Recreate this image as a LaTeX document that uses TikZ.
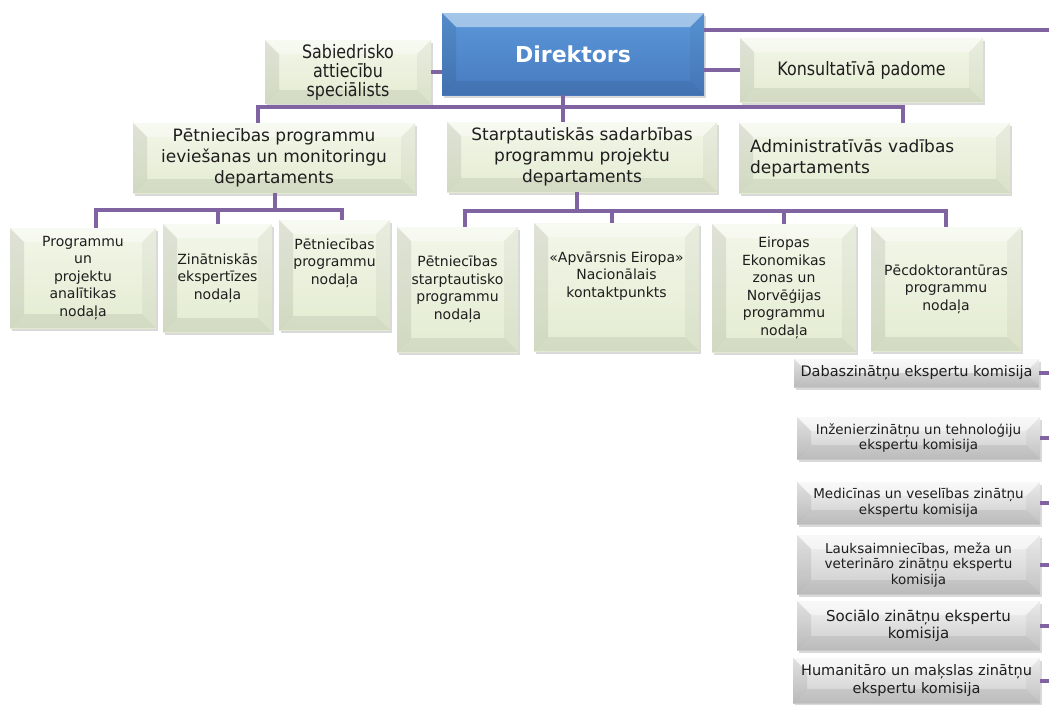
\documentclass[tikz,border=0pt]{standalone}
\usepackage{fontspec}
\setmainfont{DejaVu Sans}
\newfontfamily\narrowfont[FakeStretch=0.86]{DejaVu Sans}
\usetikzlibrary{shadows}

\definecolor{linkpurple}{RGB}{128,100,162}
\definecolor{greentop}{RGB}{242,246,232}
\definecolor{greenbot}{RGB}{228,236,210}
\definecolor{bluetop}{RGB}{90,152,218}
\definecolor{bluebot}{RGB}{72,122,190}
\definecolor{greytop}{RGB}{244,244,244}
\definecolor{greybot}{RGB}{202,202,202}
\definecolor{inktext}{RGB}{30,30,30}

\tikzset{
  bevel/.style={path picture={
    \path (path picture bounding box.north west) coordinate (nw)
          (path picture bounding box.north east) coordinate (ne)
          (path picture bounding box.south east) coordinate (se)
          (path picture bounding box.south west) coordinate (sw);
    \fill[white, opacity=.45] (nw) -- (ne) -- ([shift={(-#1,-#1)}]ne) -- ([shift={(#1,-#1)}]nw) -- cycle;
    \fill[black, opacity=.08] (nw) -- (sw) -- ([shift={(#1,#1)}]sw) -- ([shift={(#1,-#1)}]nw) -- cycle;
    \fill[black, opacity=.04] (ne) -- (se) -- ([shift={(-#1,#1)}]se) -- ([shift={(-#1,-#1)}]ne) -- cycle;
    \fill[black, opacity=.07] (sw) -- (se) -- ([shift={(-#1,#1)}]se) -- ([shift={(#1,#1)}]sw) -- cycle;
  }},
  bevel/.default=14pt,
  box/.style={rectangle, inner sep=4pt, align=center, text=inktext, bevel,
    drop shadow={shadow xshift=1.5pt, shadow yshift=-2.5pt, opacity=.3}},
  greenbox/.style={box, top color=greentop, bottom color=greenbot},
  greybox/.style={box, top color=greytop, bottom color=greybot},
  headbox/.style={box, top color=bluetop, bottom color=bluebot, text=white,
    font=\bfseries\fontsize{22}{26}\selectfont},
  side/.style={greenbox, font=\narrowfont\fontsize{18.5}{19}\selectfont},
  dept/.style={greenbox, font=\fontsize{17}{21}\selectfont},
  unit/.style={greenbox, font=\fontsize{14}{17.5}\selectfont},
  board/.style={greybox, font=\fontsize{13.5}{15.5}\selectfont},
  link/.style={draw=linkpurple, line width=4pt},
}

\begin{document}
\begin{tikzpicture}[x=1pt, y=-1pt]
  \useasboundingbox (0,0) rectangle (1049,704);
  \coordinate (edge) at (1049,0);

  % Top level
  \node[headbox, minimum width=262pt, minimum height=82pt] (dir) at (573,54) {Direktors};
  \node[side, minimum width=166pt, minimum height=54pt] (sab) at (348,72) {Sabiedrisko\\attiecību\\speciālists};
  \node[side, minimum width=243pt, minimum height=64pt] (kons) at (861.5,70) {Konsultatīvā padome};

  % Departments
  \node[dept, minimum width=282pt, minimum height=70pt] (pdept) at (274,158) {Pētniecības programmu\\ieviešanas un monitoringu\\departaments};
  \node[dept, minimum width=270pt, minimum height=70pt] (sdept) at (582,157) {Starptautiskās sadarbības\\programmu projektu\\departaments};
  \node[dept, minimum width=271pt, minimum height=70pt, align=left, inner xsep=11pt,
        text width=249pt] (adept) at (874.5,158) {Administratīvās vadības\\departaments};

  % Units
  \node[unit, minimum width=146pt, minimum height=100pt] (ana) at (83,278) {Programmu\\un\\projektu\\analītikas\\nodaļa};
  \node[unit, minimum width=109pt, minimum height=108pt] (zin) at (217.5,278) {Zinātniskās\\ekspertīzes\\nodaļa};
  \node[unit, minimum width=111pt, minimum height=110pt] (ppn) at (334.5,275) {Pētniecības\\programmu\\nodaļa\\[10pt]};
  \node[unit, minimum width=121pt, minimum height=125pt] (psn) at (457.5,289.5) {Pētniecības\\starptautisko\\programmu\\nodaļa};
  \node[unit, minimum width=165pt, minimum height=128pt] (hor) at (616.5,287) {«Apvārsnis Eiropa»\\Nacionālais\\kontaktpunkts\\[8pt]};
  \node[unit, minimum width=144pt, minimum height=128pt] (eez) at (784,288) {Eiropas\\Ekonomikas\\zonas un\\Norvēģijas\\programmu\\nodaļa};
  \node[unit, minimum width=150pt, minimum height=124pt] (pdn) at (946,289) {Pēcdoktorantūras\\programmu\\nodaļa};

  % Expert commissions
  \node[board, minimum width=245pt, minimum height=28pt, font=\fontsize{14.5}{16}\selectfont] (k1) at (916.5,373) {Dabaszinātņu ekspertu komisija};
  \node[board, minimum width=243pt, minimum height=42pt] (k2) at (918.5,438) {Inženierzinātņu un tehnoloģiju\\ekspertu komisija};
  \node[board, minimum width=243pt, minimum height=42pt] (k3) at (918.5,503) {Medicīnas un veselības zinātņu\\ekspertu komisija};
  \node[board, minimum width=243pt, minimum height=59pt] (k4) at (918.5,564.5) {Lauksaimniecības, meža un\\veterināro zinātņu ekspertu\\komisija};
  \node[board, minimum width=243pt, minimum height=49pt, font=\fontsize{15}{17}\selectfont] (k5) at (918.5,625.5) {Sociālo zinātņu ekspertu\\komisija};
  \node[board, minimum width=247pt, minimum height=45pt, font=\fontsize{14.5}{18}\selectfont] (k6) at (916.5,680.5) {Humanitāro un maķslas zinātņu\\ekspertu komisija};

  % Connectors
  \coordinate (bus) at (563,107);
  \coordinate (busP) at (275,210);
  \coordinate (busS) at (577,211);
  \draw[link] ([yshift=-17pt]dir.north east) -- ([yshift=-17pt]dir.north east -| edge);
  \draw[link] (kons.west) -- (kons.west -| dir.east);
  \draw[link] (sab.east) -- (sab.east -| dir.west);
  \draw[link] (dir.south -| bus) -- (bus);
  \draw[link] ([xshift=-16pt]pdept.north) |- (bus) -| ([xshift=28pt]adept.north);
  \draw[link] (bus) -- (sdept.north -| bus);
  \draw[link] (pdept.south -| busP) -- (busP);
  \draw[link] ([xshift=13pt]ana.north) |- (busP) -| ([xshift=7.5pt]ppn.north);
  \draw[link] (zin.north) -- (zin.north |- busP);
  \draw[link] (sdept.south -| busS) -- (busS);
  \draw[link] ([xshift=7.5pt]psn.north) |- (busS) -| (pdn.north);
  \draw[link] ([xshift=-5pt]hor.north) -- ([xshift=-5pt]hor.north |- busS);
  \draw[link] (eez.north) -- (eez.north |- busS);
  \foreach \k in {k1,k2,k3,k4,k5,k6}
    \draw[link] (\k.east) -- (\k.east -| edge);
\end{tikzpicture}
\end{document}
